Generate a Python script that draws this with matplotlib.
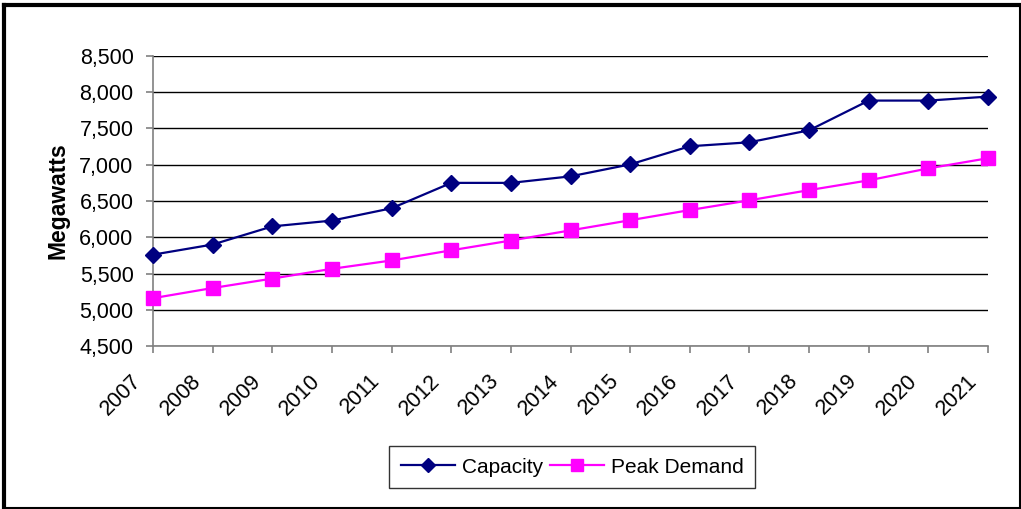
import matplotlib
matplotlib.use('Agg')
import matplotlib.pyplot as plt
from matplotlib.lines import Line2D
from matplotlib.transforms import ScaledTranslation
from matplotlib.ticker import FuncFormatter, MultipleLocator

plt.rcParams['font.family'] = ['Liberation Sans', 'DejaVu Sans']

years = [2007, 2008, 2009, 2010, 2011, 2012, 2013, 2014,
         2015, 2016, 2017, 2018, 2019, 2020, 2021]
capacity = [5760, 5900, 6150, 6230, 6400, 6750, 6750, 6840,
            7005, 7255, 7310, 7475, 7885, 7885, 7940]
peak_demand = [5160, 5300, 5430, 5565, 5680, 5820, 5955, 6095,
               6235, 6375, 6510, 6650, 6785, 6950, 7090]

fig = plt.figure(figsize=(10.21, 5.09), dpi=100)
ax = fig.add_axes([0.1499, 0.3202, 0.8178, 0.5698])

ax.plot(years, capacity, color='#000080', lw=1.6, marker='D', ms=8,
        label='Capacity', clip_on=False, zorder=3)
ax.plot(years, peak_demand, color='#FF00FF', lw=1.6, marker='s', ms=10,
        label='Peak Demand', clip_on=False, zorder=3)

ax.set_xlim(years[0], years[-1])
ax.set_ylim(4500, 8500)
ax.yaxis.set_major_locator(MultipleLocator(500))
ax.yaxis.set_major_formatter(FuncFormatter(lambda v, p: f'{v:,.0f}'))
ax.set_xticks(years)
ax.set_xticklabels([str(y) for y in years], rotation=45, ha='right',
                   rotation_mode='anchor')

ax.grid(axis='y', color='black', lw=1.0)
ax.set_axisbelow(True)
for side in ('top', 'right'):
    ax.spines[side].set_visible(False)
for side in ('left', 'bottom'):
    ax.spines[side].set_color('#808080')
    ax.spines[side].set_linewidth(1.2)

ax.tick_params(axis='both', labelsize=15.5, color='#808080', length=5,
               width=1.2, direction='out')
ax.tick_params(axis='y', pad=9)
ax.tick_params(axis='x', pad=6)

# year labels sit a little left of and below their ticks
shift = ScaledTranslation(-22 / 100, -9 / 100, fig.dpi_scale_trans)
for lbl in ax.get_xticklabels():
    lbl.set_transform(lbl.get_transform() + shift)

ax.set_ylabel('Megawatts', fontsize=16.5, fontweight='bold', labelpad=7)

leg = ax.legend(loc='center', bbox_to_anchor=(0.5607, 0.0825),
                bbox_transform=fig.transFigure, ncol=2, fontsize=15,
                frameon=True, fancybox=False, handlelength=2.6,
                columnspacing=0.3, handletextpad=0.35, borderpad=0.55,
                borderaxespad=0, markerscale=0.85)
leg.get_frame().set_edgecolor('black')
leg.get_frame().set_linewidth(1.0)

# outer frame: heavy on top and left, thin on right and bottom
W, H = 1021, 509
px = lambda x, y: (x / W, 1 - y / H)
for (x0, y0), (x1, y1), lw in [((4, 5), (1019.5, 5), 3.0),
                                ((4, 5), (4, 508), 3.0),
                                ((1019.5, 5), (1019.5, 508), 1.5),
                                ((4, 508), (1019.5, 508), 1.5)]:
    a, b = px(x0, y0), px(x1, y1)
    fig.lines.append(Line2D([a[0], b[0]], [a[1], b[1]], color='black',
                            lw=lw, transform=fig.transFigure))

fig.savefig('out.png', dpi=100)
